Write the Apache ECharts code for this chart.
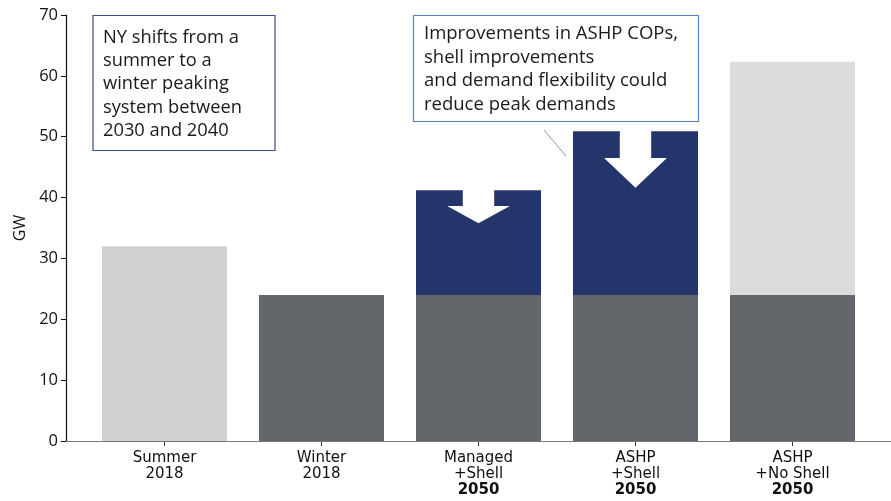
<!DOCTYPE html>
<html><head><meta charset="utf-8">
<script src="https://cdn.jsdelivr.net/npm/echarts@6/dist/echarts.min.js"></script>
<style>html,body{margin:0;padding:0;background:#fff}#c{width:891px;height:501px}</style>
</head><body><div id="c"></div>
<script>
const categories = ['Summer\n2018', 'Winter\n2018', 'Managed\n+Shell\n2050', 'ASHP\n+Shell\n2050', 'ASHP\n+No Shell\n2050'];
const summerPeak = [32, null, null, null, null];
const basePeak = [null, 24, 24, 24, 24];
const addedPeak = [null, null, 17.2, 26.9, 38.3];
const addedIsReducible = [false, false, true, true, false];
// arrows: [category index, top (GW), shaft bottom (GW), tip (GW)]
const arrows = [[2, 41.2, 38.6, 35.8], [3, 51.1, 46.5, 41.6]];
const yTicks = {min: 0, max: 70, interval: 10};

const chart = echarts.init(document.getElementById('c'), null, {renderer: 'canvas'});
const FONT = 'Open Sans';
const option = {
  animation: false,
  grid: {left: 86, right: 20, top: 15, bottom: 60},
  xAxis: {
    type: 'category', data: categories,
    axisLine: {show: false},
    axisTick: {show: true, alignWithLabel: true, length: 5, lineStyle: {color: '#333'}},
    axisLabel: {
      margin: 9, color: '#111', fontFamily: 'DejaVu Sans', fontSize: 15, lineHeight: 16.2,
      formatter: v => v.split('\n').map(s => s === '2050' ? '{b|2050}' : s).join('\n'),
      rich: {b: {fontWeight: 'bold', fontFamily: 'DejaVu Sans', fontSize: 15, lineHeight: 16.2, color: '#111'}}
    }
  },
  yAxis: {
    type: 'value', min: yTicks.min, max: yTicks.max, interval: yTicks.interval,
    offset: 20,
    name: 'GW', nameLocation: 'middle', nameGap: 36, nameRotate: 90,
    nameTextStyle: {fontFamily: FONT, fontSize: 16, color: '#111'},
    axisLine: {show: true, lineStyle: {color: '#111', width: 1.2}},
    axisTick: {show: true, length: 5, lineStyle: {color: '#111'}},
    axisLabel: {fontFamily: FONT, fontSize: 16.5, color: '#111', margin: 8},
    splitLine: {show: false}
  },
  series: [
    {type: 'bar', stack: 't', barWidth: 125, data: summerPeak, itemStyle: {color: '#d0d0d0'}},
    {type: 'bar', stack: 't', barWidth: 125, data: basePeak, itemStyle: {color: '#63666a'}},
    {type: 'bar', stack: 't', barWidth: 125,
      data: addedPeak.map((v, i) => ({value: v, itemStyle: {color: addedIsReducible[i] ? '#24356b' : '#dcdcdc'}}))},
    {type: 'custom', z: 10, data: arrows,
      renderItem: (params, api) => {
        const c = api.value(0);
        const top = api.coord([c, api.value(1)]);
        const sb = api.coord([c, api.value(2)]);
        const tip = api.coord([c, api.value(3)]);
        const bw = api.size([1, 0])[0];
        const sw = bw * 0.1, hw = bw * 0.2;
        const x = top[0];
        return {type: 'polygon', shape: {points: [
          [x - sw, top[1] - 0.5], [x + sw, top[1] - 0.5], [x + sw, sb[1]], [x + hw, sb[1]],
          [x, tip[1]], [x - hw, sb[1]], [x - sw, sb[1]]
        ]}, style: {fill: '#fff'}};
      }}
  ],
  graphic: [
    {type: 'line', shape: {x1: 66, y1: 441.5, x2: 891, y2: 441.5}, style: {stroke: '#777', lineWidth: 1.2}, z: 5},
    {type: 'rect', shape: {x: 93, y: 15.5, width: 182, height: 135}, style: {fill: '#fff', stroke: '#3a4a96', lineWidth: 1.2}, z: 20},
    {type: 'text', x: 103, y: 26, z: 21, style: {text: 'NY shifts from a\nsummer to a\nwinter peaking\nsystem between\n2030 and 2040',
      fontFamily: FONT, fontSize: 18.3, lineHeight: 23.3, fill: '#1a1a1a'}},
    {type: 'rect', shape: {x: 413.5, y: 15.5, width: 285, height: 106}, style: {fill: '#fff', stroke: '#5b7fc7', lineWidth: 1.2}, z: 20},
    {type: 'text', x: 424, y: 22, z: 21, style: {text: 'Improvements in ASHP COPs,\nshell improvements\nand demand flexibility could\nreduce peak demands',
      fontFamily: FONT, fontSize: 18.5, lineHeight: 23.6, fill: '#1a1a1a'}},
    {type: 'line', shape: {x1: 544, y1: 130, x2: 566, y2: 156}, style: {stroke: '#5b7fc7', lineWidth: 0.8}, z: 20}
  ]
};
chart.setOption(option);
</script></body></html>
